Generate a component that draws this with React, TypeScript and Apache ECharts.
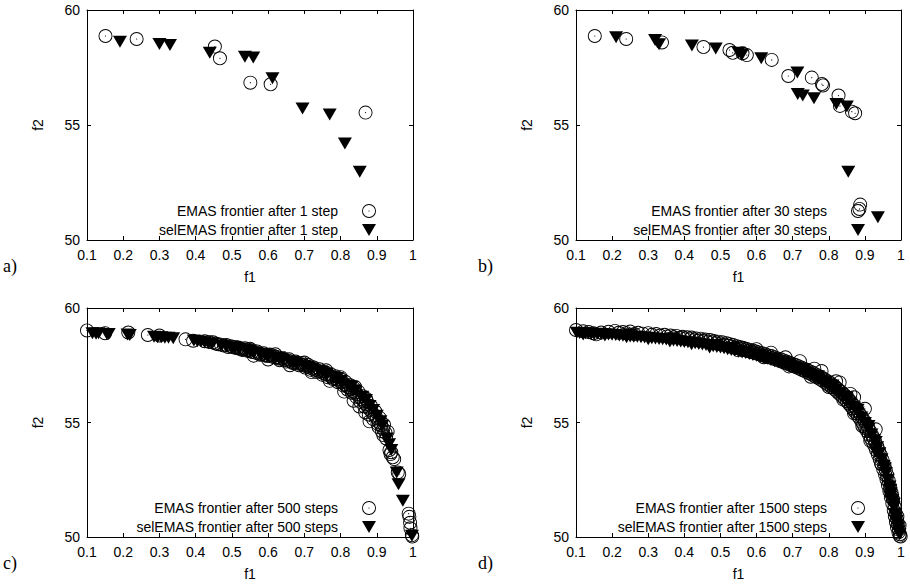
import React, { useEffect, useRef } from 'react';
import * as echarts from 'echarts';

const panelLabels = ['a)', 'b)', 'c)', 'd)'];
const stepTexts = ['1 step', '30 steps', '500 steps', '1500 steps'];

const emas1: number[][] = [
  [0.151, 58.87], [0.237, 58.74], [0.453, 58.41], [0.467, 57.90], [0.551, 56.84], [0.607, 56.77], [0.869, 55.54],
];
const sel1: number[][] = [
  [0.191, 58.62], [0.300, 58.52], [0.329, 58.48], [0.439, 58.14], [0.536, 57.97], [0.559, 57.93],
  [0.612, 57.03], [0.695, 55.72], [0.770, 55.46], [0.812, 54.20], [0.853, 52.97],
];

const emas30: number[][] = [
  [0.152, 58.87], [0.239, 58.74], [0.338, 58.59], [0.453, 58.39], [0.525, 58.26], [0.534, 58.14],
  [0.561, 58.12], [0.573, 58.04], [0.642, 57.83], [0.688, 57.13], [0.753, 57.06], [0.781, 56.78],
  [0.784, 56.72], [0.827, 56.28], [0.831, 55.83], [0.864, 55.58], [0.873, 55.51], [0.887, 51.54], [0.885, 51.35],
];
const sel30: number[][] = [
  [0.211, 58.81], [0.319, 58.70], [0.330, 58.51], [0.421, 58.46], [0.487, 58.33], [0.550, 58.14],
  [0.559, 58.04], [0.613, 57.90], [0.713, 57.28], [0.714, 56.35], [0.728, 56.28], [0.759, 56.16],
  [0.821, 55.91], [0.850, 55.80], [0.854, 52.97], [0.936, 50.99],
];

const emas500: number[][] = [
  [0.100, 59.02], [0.150, 58.90], [0.214, 58.93], [0.268, 58.82], [0.300, 58.80], [0.372, 58.63],
  [0.393, 58.57], [0.425, 58.55], [0.437, 58.52], [0.448, 58.50], [0.470, 58.40], [0.478, 58.36],
  [0.490, 58.30], [0.505, 58.28], [0.515, 58.24], [0.523, 58.22], [0.532, 58.20], [0.540, 58.14],
  [0.548, 58.12], [0.556, 58.08], [0.565, 58.05], [0.574, 58.02], [0.583, 57.98], [0.592, 57.95],
  [0.600, 57.93], [0.610, 57.88], [0.620, 57.84], [0.628, 57.80], [0.636, 57.78], [0.645, 57.74],
  [0.655, 57.70], [0.662, 57.66], [0.672, 57.62], [0.680, 57.58], [0.690, 57.55], [0.698, 57.50],
  [0.706, 57.45], [0.715, 57.40], [0.722, 57.36], [0.730, 57.30], [0.738, 57.26], [0.746, 57.22],
  [0.752, 57.16], [0.760, 57.10], [0.768, 57.06], [0.775, 57.00], [0.782, 56.95], [0.790, 56.88],
  [0.796, 56.82], [0.803, 56.76], [0.810, 56.68], [0.816, 56.60], [0.822, 56.54], [0.828, 56.45],
  [0.834, 56.38], [0.840, 56.30], [0.846, 56.22], [0.852, 56.12], [0.858, 56.02], [0.864, 55.92],
  [0.870, 55.80], [0.876, 55.66], [0.882, 55.55], [0.888, 55.42], [0.894, 55.30], [0.900, 55.18],
  [0.906, 55.02], [0.912, 54.88], [0.918, 54.72], [0.924, 54.56], [0.938, 53.62], [0.944, 53.48],
  [0.948, 53.40], [0.958, 52.82], [0.962, 52.75], [0.988, 51.02], [0.990, 50.88], [0.992, 50.62],
  [0.993, 50.38], [0.997, 50.08], [0.998, 50.02],
  [0.836, 55.95], [0.852, 55.70], [0.868, 55.45], [0.880, 55.05], [0.905, 54.80], [0.918, 54.45],
  [0.810, 56.35], [0.770, 56.82], [0.720, 57.20], [0.660, 57.50], [0.600, 57.75], [0.560, 57.92],
  [0.550, 58.22], [0.620, 57.98], [0.700, 57.62], [0.760, 57.28], [0.800, 56.98], [0.840, 56.55], [0.870, 56.05],
];
const emas500Band: number[][] = [
  [0.455, 58.45], [0.462, 58.42], [0.485, 58.38], [0.497, 58.33], [0.510, 58.30], [0.518, 58.27],
  [0.528, 58.17], [0.536, 58.24], [0.545, 58.18], [0.553, 58.15], [0.570, 58.10], [0.578, 57.96],
  [0.588, 58.02], [0.596, 57.90], [0.605, 57.97], [0.615, 57.92], [0.625, 57.86], [0.632, 57.72],
  [0.641, 57.82], [0.650, 57.66], [0.658, 57.76], [0.668, 57.60], [0.676, 57.66], [0.685, 57.50],
  [0.694, 57.60], [0.702, 57.40], [0.710, 57.52], [0.718, 57.30], [0.726, 57.40], [0.734, 57.20],
  [0.742, 57.32], [0.750, 57.08], [0.756, 57.22], [0.764, 56.98], [0.772, 57.12], [0.779, 56.90],
  [0.786, 57.02], [0.793, 56.76], [0.800, 56.90], [0.807, 56.62], [0.813, 56.78], [0.819, 56.44],
  [0.825, 56.64], [0.831, 56.30], [0.837, 56.50], [0.843, 56.12], [0.849, 56.35], [0.855, 55.90],
  [0.861, 56.15], [0.866, 55.70], [0.872, 55.95], [0.878, 55.35], [0.884, 55.72], [0.890, 55.15],
  [0.896, 55.48], [0.902, 54.95], [0.908, 55.20], [0.914, 54.62], [0.920, 54.90], [0.926, 54.30],
  [0.930, 54.60], [0.935, 53.80], [0.940, 53.70],
];
const sel500: number[][] = [
  [0.115, 58.90], [0.125, 58.88], [0.132, 58.90], [0.155, 58.87], [0.160, 58.86], [0.212, 58.84],
  [0.218, 58.82], [0.285, 58.74], [0.295, 58.72], [0.305, 58.72], [0.315, 58.70], [0.325, 58.70],
  [0.338, 58.68], [0.395, 58.58], [0.405, 58.55], [0.415, 58.54], [0.425, 58.50], [0.435, 58.46],
  [0.445, 58.44], [0.470, 58.36], [0.485, 58.32], [0.500, 58.26], [0.520, 58.20], [0.540, 58.13],
  [0.560, 58.05], [0.580, 57.98], [0.600, 57.90], [0.620, 57.82], [0.640, 57.74], [0.660, 57.65],
  [0.680, 57.56], [0.700, 57.46], [0.720, 57.36], [0.740, 57.24], [0.760, 57.12], [0.780, 56.98],
  [0.800, 56.82], [0.820, 56.62], [0.840, 56.40], [0.860, 56.12], [0.880, 55.72], [0.900, 55.30],
  [0.915, 54.85], [0.928, 54.30], [0.934, 54.05], [0.940, 53.80], [0.955, 52.82], [0.960, 52.30],
  [0.972, 51.58], [0.997, 50.05],
  [0.510, 58.28], [0.550, 58.14], [0.590, 57.98], [0.630, 57.82], [0.670, 57.64], [0.710, 57.44],
  [0.750, 57.20], [0.790, 56.94], [0.830, 56.56], [0.870, 55.98], [0.890, 55.55], [0.910, 55.05],
];

const emas1500: number[][] = [
  [0.100, 59.04], [0.148, 58.90], [0.156, 58.85], [0.208, 59.00], [0.230, 58.95], [0.250, 58.97],
  [0.272, 58.92], [0.300, 58.90], [0.322, 58.86], [0.345, 58.83], [0.362, 58.80], [0.378, 58.78],
  [0.395, 58.74], [0.408, 58.72], [0.420, 58.71], [0.433, 58.67], [0.445, 58.66], [0.458, 58.62],
  [0.471, 58.60], [0.482, 58.56], [0.493, 58.53], [0.505, 58.50], [0.517, 58.46], [0.526, 58.42],
  [0.535, 58.38], [0.545, 58.33], [0.553, 58.30], [0.562, 58.26], [0.571, 58.22], [0.580, 58.18],
  [0.590, 58.14], [0.598, 58.10], [0.606, 58.06], [0.615, 58.02], [0.624, 57.98], [0.633, 57.93],
  [0.641, 57.90], [0.650, 57.85], [0.658, 57.80], [0.667, 57.76], [0.675, 57.71], [0.683, 57.66],
  [0.692, 57.61], [0.700, 57.56], [0.708, 57.51], [0.716, 57.46], [0.724, 57.40], [0.732, 57.35],
  [0.740, 57.29], [0.748, 57.23], [0.755, 57.18], [0.763, 57.11], [0.770, 57.05], [0.777, 56.99],
  [0.784, 56.93], [0.791, 56.86], [0.798, 56.79], [0.805, 56.72], [0.811, 56.64], [0.817, 56.57],
  [0.823, 56.49], [0.829, 56.41], [0.835, 56.33], [0.841, 56.24], [0.847, 56.15], [0.853, 56.05],
  [0.858, 55.96], [0.864, 55.85], [0.869, 55.75], [0.874, 55.64], [0.879, 55.53], [0.884, 55.42],
  [0.889, 55.30], [0.894, 55.18], [0.899, 55.05], [0.904, 54.92], [0.909, 54.78], [0.914, 54.63],
  [0.919, 54.48], [0.924, 54.32], [0.929, 54.15], [0.934, 53.97], [0.939, 53.78], [0.944, 53.58],
  [0.949, 53.37], [0.954, 53.14], [0.958, 52.93], [0.962, 52.70], [0.966, 52.46], [0.970, 52.20],
  [0.974, 51.93], [0.978, 51.64], [0.982, 51.33], [0.985, 51.05], [0.988, 50.80], [0.991, 50.55],
  [0.994, 50.32], [0.997, 50.12], [0.999, 50.02],
  [0.550, 58.15], [0.620, 57.85], [0.690, 57.45], [0.750, 57.00], [0.800, 56.55], [0.840, 56.00],
  [0.870, 55.40], [0.893, 54.85], [0.915, 54.20], [0.945, 53.20], [0.975, 51.80], [0.990, 50.90],
  [0.996, 50.50], [0.600, 58.20], [0.680, 57.85], [0.760, 57.35], [0.820, 56.80], [0.860, 56.25],
];
const emas1500Band: number[][] = [
  [0.120, 58.98], [0.135, 58.95], [0.170, 58.93], [0.190, 58.96], [0.218, 58.92], [0.240, 58.90],
  [0.262, 58.86], [0.285, 58.88], [0.310, 58.83], [0.333, 58.80], [0.352, 58.76], [0.370, 58.72],
  [0.388, 58.70], [0.402, 58.66], [0.415, 58.64], [0.428, 58.62], [0.440, 58.58], [0.452, 58.56],
  [0.465, 58.52], [0.477, 58.50], [0.488, 58.46], [0.500, 58.42], [0.511, 58.38], [0.522, 58.35],
  [0.532, 58.30], [0.541, 58.26], [0.550, 58.24], [0.558, 58.20], [0.567, 58.16], [0.576, 58.12],
  [0.585, 58.08], [0.594, 58.04], [0.603, 58.00], [0.611, 57.96], [0.620, 57.92], [0.628, 57.88],
  [0.637, 57.84], [0.646, 57.79], [0.654, 57.75], [0.662, 57.70], [0.671, 57.65], [0.679, 57.60],
  [0.688, 57.55], [0.696, 57.50], [0.704, 57.45], [0.712, 57.40], [0.720, 57.34], [0.728, 57.28],
  [0.736, 57.22], [0.744, 57.16], [0.752, 57.10], [0.759, 57.04], [0.766, 56.98], [0.773, 56.92],
  [0.780, 56.85], [0.787, 56.78], [0.794, 56.70], [0.801, 56.62], [0.808, 56.55], [0.814, 56.47],
  [0.820, 56.39], [0.826, 56.30], [0.832, 56.22], [0.838, 56.12], [0.844, 56.03], [0.850, 55.93],
  [0.855, 55.83], [0.861, 55.72], [0.866, 55.62], [0.871, 55.50], [0.876, 55.40], [0.881, 55.28],
  [0.886, 55.16], [0.891, 55.03], [0.896, 54.90], [0.901, 54.76], [0.906, 54.62], [0.911, 54.47],
  [0.916, 54.32], [0.921, 54.16], [0.926, 53.98], [0.931, 53.80], [0.936, 53.60], [0.941, 53.40],
  [0.946, 53.18], [0.951, 52.95], [0.956, 52.72], [0.960, 52.50], [0.964, 52.26], [0.968, 52.00],
  [0.972, 51.74], [0.976, 51.46], [0.980, 51.16], [0.983, 50.90], [0.986, 50.65], [0.989, 50.42],
  [0.993, 50.20], [0.996, 50.05],
  [0.640, 58.05], [0.720, 57.68], [0.780, 57.25], [0.830, 56.75], [0.870, 56.10], [0.900, 55.60], [0.930, 54.70],
];
const sel1500: number[][] = [
  [0.102, 58.92], [0.110, 58.91], [0.118, 58.90], [0.126, 58.90], [0.134, 58.89], [0.142, 58.88],
  [0.150, 58.86], [0.160, 58.88], [0.170, 58.87], [0.180, 58.85], [0.190, 58.84], [0.200, 58.83],
  [0.210, 58.82], [0.220, 58.80], [0.230, 58.79], [0.240, 58.78], [0.250, 58.76], [0.260, 58.75],
  [0.270, 58.74], [0.280, 58.72], [0.290, 58.71], [0.300, 58.70], [0.310, 58.68], [0.320, 58.67],
  [0.330, 58.65], [0.340, 58.63], [0.350, 58.62], [0.360, 58.60], [0.370, 58.58], [0.380, 58.56],
  [0.390, 58.54], [0.400, 58.52], [0.410, 58.50], [0.420, 58.48], [0.430, 58.46], [0.440, 58.43],
  [0.450, 58.41], [0.460, 58.38], [0.470, 58.35], [0.480, 58.33], [0.490, 58.30], [0.500, 58.27],
  [0.510, 58.24], [0.520, 58.20], [0.530, 58.17], [0.540, 58.14], [0.550, 58.10], [0.560, 58.06],
  [0.570, 58.03], [0.580, 57.99], [0.590, 57.95], [0.600, 57.91], [0.610, 57.87], [0.620, 57.82],
  [0.630, 57.78], [0.640, 57.73], [0.650, 57.68], [0.660, 57.63], [0.670, 57.58], [0.680, 57.53],
  [0.690, 57.47], [0.700, 57.41], [0.710, 57.35], [0.720, 57.29], [0.730, 57.22], [0.740, 57.15],
  [0.750, 57.08], [0.760, 57.00], [0.770, 56.92], [0.780, 56.83], [0.790, 56.74], [0.800, 56.64],
  [0.810, 56.53], [0.820, 56.42], [0.830, 56.29], [0.840, 56.15], [0.850, 56.00], [0.860, 55.83],
  [0.870, 55.65], [0.880, 55.44], [0.890, 55.22], [0.900, 54.98], [0.910, 54.72], [0.918, 54.48],
  [0.926, 54.22], [0.934, 53.92], [0.940, 53.66], [0.946, 53.40], [0.952, 53.10], [0.958, 52.80],
  [0.963, 52.50], [0.968, 52.20], [0.972, 51.90], [0.976, 51.60], [0.980, 51.30], [0.984, 51.00],
  [0.988, 50.70], [0.992, 50.40], [0.996, 50.12],
  [0.120, 58.84], [0.180, 58.80], [0.240, 58.72], [0.300, 58.64], [0.360, 58.54], [0.420, 58.42],
  [0.470, 58.28], [0.250, 58.85], [0.370, 58.68],
  [0.490, 58.38], [0.530, 58.25], [0.570, 58.10], [0.610, 57.95], [0.650, 57.76], [0.690, 57.56],
  [0.730, 57.32], [0.770, 57.02], [0.810, 56.62], [0.850, 56.10], [0.880, 55.56], [0.910, 54.85],
  [0.930, 54.15], [0.955, 53.00], [0.970, 52.05], [0.980, 51.45], [0.986, 50.85], [0.990, 50.55],
  [0.994, 50.25], [0.930, 53.75], [0.970, 51.75],
];

const emasSets = [emas1, emas30, emas500.concat(emas500Band), emas1500.concat(emas1500Band)];
const selSets = [sel1, sel30, sel500, sel1500];

const RING =
  'path://M0,7A7,7 0 1,1 14,7A7,7 0 1,1 0,7ZM0.9,7A6.1,6.1 0 1,0 13.1,7A6.1,6.1 0 1,0 0.9,7ZM6.4,7A0.6,0.6 0 1,1 7.6,7A0.6,0.6 0 1,1 6.4,7Z';
const TRI = 'path://M0,0L14,0L7,12Z';

export default function App() {
  const ref = useRef<HTMLDivElement>(null);
  useEffect(() => {
    document.body.style.margin = '0';
    const chart = echarts.init(ref.current!, null, { renderer: 'svg' });
    const font = 'Liberation Sans';
    const grids = [
      { left: 87, top: 10, width: 326, height: 230 },
      { left: 576, top: 10, width: 325, height: 230 },
      { left: 87, top: 308, width: 326, height: 229 },
      { left: 576, top: 308, width: 325, height: 229 },
    ];
    const line = { show: true, lineStyle: { color: '#000', width: 1 } };
    const tick = { show: true, inside: true, length: 4, lineStyle: { color: '#000', width: 1 } };
    const xAxes: any[] = [];
    const yAxes: any[] = [];
    const series: any[] = [];
    const legends: any[] = [];
    const graphics: any[] = [];
    grids.forEach((g, i) => {
      const xBase = { type: 'value', gridIndex: i, min: 0.1, max: 1, interval: 0.1, axisLine: line, axisTick: tick, splitLine: { show: false } };
      const yBase = { type: 'value', gridIndex: i, min: 50, max: 60, interval: 5, axisLine: line, axisTick: tick, splitLine: { show: false } };
      xAxes.push({
        ...xBase, position: 'bottom',
        axisLabel: { color: '#000', fontFamily: font, fontSize: 14, margin: 8 },
        name: 'f1', nameLocation: 'middle', nameGap: 30,
        nameTextStyle: { color: '#000', fontFamily: font, fontSize: 14 },
      });
      xAxes.push({ ...xBase, position: 'top', axisLabel: { show: false } });
      yAxes.push({
        ...yBase, position: 'left',
        axisLabel: { color: '#000', fontFamily: font, fontSize: 14, margin: 7 },
        name: 'f2', nameLocation: 'middle', nameGap: 42,
        nameTextStyle: { color: '#000', fontFamily: font, fontSize: 14 },
      });
      yAxes.push({ ...yBase, position: 'right', axisLabel: { show: false } });
      const n1 = 'EMAS frontier after ' + stepTexts[i];
      const n2 = 'selEMAS frontier after ' + stepTexts[i];
      series.push({
        type: 'scatter', name: n1, xAxisIndex: 2 * i, yAxisIndex: 2 * i, data: emasSets[i],
        symbol: RING, symbolSize: 14, itemStyle: { color: '#000', opacity: 1 },
      });
      series.push({
        type: 'scatter', name: n2, xAxisIndex: 2 * i, yAxisIndex: 2 * i, data: selSets[i],
        symbol: TRI, symbolSize: [14, 12], itemStyle: { color: '#000', opacity: 1 },
      });
      legends.push({
        orient: 'vertical', align: 'right', selectedMode: false,
        right: 910 - (g.left + 294),
        top: g.top + g.height - 41,
        itemWidth: 14, itemHeight: 14, itemGap: 5,
        data: [{ name: n1, icon: RING }, { name: n2, icon: TRI }],
        itemStyle: { opacity: 1 },
        textStyle: { color: '#000', fontFamily: font, fontSize: 14, padding: [0, 19, 0, 0] },
      });
      graphics.push({
        type: 'text', left: i % 2 === 0 ? 3 : 478, top: g.top + g.height + 17,
        style: { text: panelLabels[i], fontFamily: 'Liberation Serif', fontSize: 18, fill: '#000' },
      });
    });
    chart.setOption({
      animation: false,
      backgroundColor: '#fff',
      grid: grids,
      xAxis: xAxes,
      yAxis: yAxes,
      series,
      legend: legends,
      graphic: graphics,
    });
    return () => chart.dispose();
  }, []);
  return <div ref={ref} style={{ width: 910, height: 587 }} />;
}
